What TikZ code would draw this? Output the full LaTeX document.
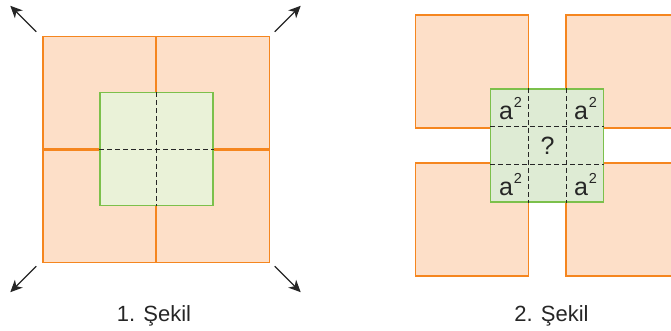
\documentclass[tikz,border=0pt]{standalone}
\usepackage{fontspec}
\setmainfont{Liberation Sans}
\usetikzlibrary{arrows.meta,positioning,calc}
\definecolor{turuncu}{HTML}{F5861F}
\definecolor{ten}{HTML}{FDDFC8}
\definecolor{yesil}{HTML}{7CC04B}
\definecolor{acikyesil}{HTML}{EAF2D8}
\definecolor{koyuyesil}{HTML}{DEEBD4}
\newcommand{\akare}{\fontsize{25}{28}\selectfont a\kern1pt\raisebox{12.4pt}{\fontsize{14.5}{15}\selectfont 2}}

\begin{document}
\begin{tikzpicture}[x=1pt,y=-1pt]
%styles des carres (turuncu = orange)
\tikzset{kare/.style={draw=turuncu,fill=ten,line width=1.2pt,minimum size=112.6pt,inner sep=0pt}}
\tikzset{yesilkare/.style={draw=yesil,line width=1.2pt,minimum size=113pt,inner sep=0pt}}
\tikzset{kesik/.style={dash pattern=on 5pt off 3pt,line width=1.1pt,black!85}}
\tikzset{ok/.style={-{Stealth[length=12pt,width=11pt,inset=3.5pt]},line width=1.2pt,black!85}}
\tikzset{yazi/.style={font=\fontsize{22}{26}\selectfont,text=black!85,inner sep=0pt}}
\useasboundingbox (0,0) rectangle (671,331);

%1. Sekil
\node[kare] (k1) at (99.2,92.7) {};
\node[kare] (k2) at (212.8,92.7) {};
\node[kare] (k3) at (99.2,206.3) {};
\node[kare] (k4) at (212.8,206.3) {};
\node[yesilkare,fill=acikyesil] (g1) at (156.5,149.2) {};
\draw[kesik] (g1.north) -- (g1.south);
\draw[kesik] (g1.west) -- (g1.east);
\draw[ok] ([shift={(-6,-4)}]k1.north west) -- ++(-26,-26);
\draw[ok] ([shift={(5,-4)}]k2.north east) -- ++(26,-26);
\draw[ok] ([shift={(-6,3)}]k3.south west) -- ++(-26,26);
\draw[ok] ([shift={(5,3)}]k4.south east) -- ++(26,26);
\node[yazi,anchor=base] (s1) at (154,321.5) {1. Şekil};

%2. Sekil
\node[kare,minimum size=113pt] (m1) at (472.2,71.5) {};
\node[kare,minimum size=113pt] (m2) at (622.5,71.5) {};
\node[kare,minimum size=113pt] (m3) at (472.2,219.5) {};
\node[kare,minimum size=113pt] (m4) at (622.5,219.5) {};
\node[yesilkare,fill=koyuyesil] (g2) at (547.2,145.5) {};
\foreach \t in {1/3,2/3}{
  \draw[kesik] ($(g2.north west)!\t!(g2.north east)$) -- ($(g2.south west)!\t!(g2.south east)$);
  \draw[kesik] ($(g2.north west)!\t!(g2.south west)$) -- ($(g2.north east)!\t!(g2.south east)$);
}
\node[yazi,anchor=base] (h1) at (510.5,119.5) {\akare};
\node[yazi,anchor=base] (h2) at (585.5,119.5) {\akare};
\node[yazi,anchor=base] (h3) at (510.5,195.5) {\akare};
\node[yazi,anchor=base] (h4) at (585.5,195.5) {\akare};
\node[yazi,anchor=base,font=\fontsize{25}{28}\selectfont] (h5) at (547.5,155) {?};
\node[yazi,anchor=base] (s2) at (551.5,321.5) {2. Şekil};
\end{tikzpicture}
\end{document}
